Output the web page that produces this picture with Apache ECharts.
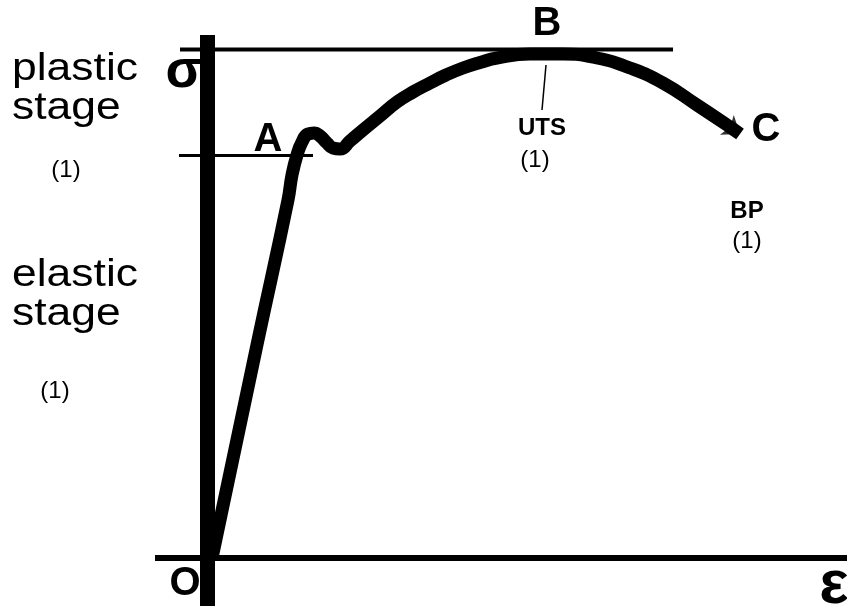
<!DOCTYPE html>
<html>
<head>
<meta charset="utf-8">
<script src="https://cdn.jsdelivr.net/npm/echarts@6/dist/echarts.min.js"></script>
<style>
    html, body { margin: 0; padding: 0; background: #fff; }
    #chart_stress { width: 847px; height: 611px; }
</style>
</head>
<body>
<div id="chart_stress"></div>
<script>
// strain (x) / stress (y)
var curveStrain = [0.125, 1.275, 2.025, 2.125, 2.25, 2.375, 2.525, 2.675, 2.825, 3.0, 3.15, 3.325, 3.575, 3.9, 4.325, 4.75, 5.15, 5.575, 5.975, 6.4, 6.825, 7.25, 8.075, 8.9, 9.75, 10.575, 11.4, 12.25, 13.075, 13.325];
var curveStress = [0, 218, 358, 383, 403, 416, 424, 425, 422, 415, 410, 409, 417, 428, 442, 456, 466, 475, 483, 490, 495.5, 500, 504, 504, 500, 490, 475, 453, 431, 424];
// guide lines: UTS level and yield level
var utsLine = [[-0.675, 508.5], [11.65, 508.5]];
var yieldLine = [[-0.7, 402.5], [2.65, 402.5]];
var utsPointer = [[8.475, 493], [8.375, 448]];

!function(){
    var Echarts = echarts.init(document.getElementById('chart_stress'));
    var curve = curveStrain.map(function(x, i){ return [x, curveStress[i]]; });
    var last = curve[curve.length - 1];
    var font = '"Liberation Sans", Arial, sans-serif';

    function txt(text, x, y, size, bold, extra){
        var el = {
            type: 'text', x: x, y: y, silent: true,
            style: {
                text: text, fill: '#000',
                font: (bold ? 'bold ' : '') + size + 'px ' + font,
                textAlign: 'center', textVerticalAlign: 'middle'
            }
        };
        if (extra) { for (var k in extra) el[k] = extra[k]; }
        return el;
    }
    function stage(text, y){
        var el = txt(text, 12, y, 38, false, {scaleX: 1.17});
        el.style.textAlign = 'left';
        return el;
    }

    var option = {
        animation: false,
        backgroundColor: '#fff',
        grid: { left: 155, right: 0, top: 35, bottom: 5 },
        xAxis: {
            type: 'value', min: -1.3, max: 16,
            axisLine: { show: true, onZero: true, lineStyle: { color: '#000', width: 6, cap: 'butt' } },
            axisTick: { show: false }, axisLabel: { show: false }, splitLine: { show: false }
        },
        yAxis: {
            type: 'value', min: -48, max: 523,
            axisLine: { show: true, onZero: true, lineStyle: { color: '#000', width: 15, cap: 'butt' } },
            axisTick: { show: false }, axisLabel: { show: false }, splitLine: { show: false }
        },
        series: [
            {
                type: 'line', data: utsLine, symbol: 'none', clip: false,
                lineStyle: { color: '#000', width: 4 }
            },
            {
                type: 'line', data: yieldLine, symbol: 'none', clip: false,
                lineStyle: { color: '#000', width: 3 }
            },
            {
                type: 'line', data: utsPointer, symbol: 'none', clip: false,
                lineStyle: { color: '#000', width: 1.5 }
            },
            {
                type: 'line', data: curve, symbol: 'none', smooth: 0.5, clip: false,
                lineStyle: { color: '#000', width: 13, cap: 'butt', join: 'round' }
            },
            {
                type: 'scatter', data: [last], symbol: 'arrow', symbolSize: [18, 16],
                symbolRotate: -125, clip: false,
                itemStyle: { color: '#000' }
            }
        ],
        graphic: [
            stage('plastic', 70),
            stage('stage', 109),
            stage('elastic', 276),
            stage('stage', 315),
            txt('(1)', 66, 170, 24),
            txt('(1)', 55, 391, 24),
            txt('σ', 184, 72, 54, true),
            txt('A', 268, 140, 40, true),
            txt('B', 547, 24, 40, true),
            txt('C', 766, 130, 40, true),
            txt('O', 185, 584, 40, true),
            txt('ε', 834, 586, 62, true),
            txt('UTS', 542, 128, 24, true),
            txt('(1)', 535, 160, 24),
            txt('BP', 747, 211, 24, true),
            txt('(1)', 747, 241, 24)
        ]
    };
    Echarts.setOption(option);
    window.addEventListener('resize', Echarts.resize);
}();
</script>
</body>
</html>
